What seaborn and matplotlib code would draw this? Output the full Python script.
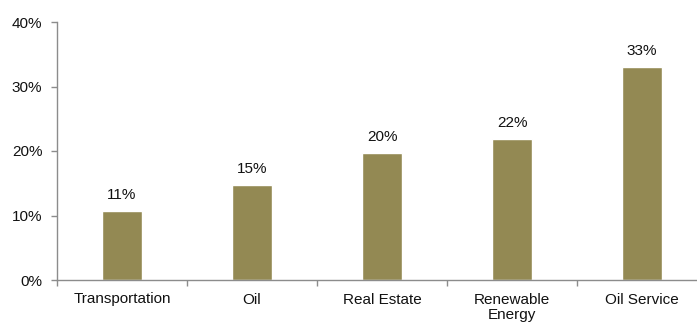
import matplotlib
matplotlib.use("Agg")
import matplotlib.pyplot as plt
import seaborn as sns
import pandas as pd
from matplotlib.ticker import FixedLocator, PercentFormatter

sectors = ["Transportation", "Oil", "Real Estate", "Renewable\nEnergy", "Oil Service"]
returns = [10.7, 14.8, 19.7, 21.8, 33.0]
y_ticks = [0, 10, 20, 30, 40]

df = pd.DataFrame({"sector": sectors, "ret": returns})

sns.set_theme(style="white")
plt.rcParams["font.family"] = ["Liberation Sans", "DejaVu Sans"]

fig = plt.figure(figsize=(6.97, 3.25), dpi=100)
ax = fig.add_axes([57 / 697, 45 / 325, 650 / 697, 258 / 325])

sns.barplot(data=df, x="sector", y="ret", color="#938953", saturation=1,
            width=0.31, ax=ax)

ax.set_xlim(-0.5, len(sectors) - 0.5)
ax.set_ylim(0, 40)
ax.set_yticks(y_ticks)
ax.yaxis.set_major_formatter(PercentFormatter(decimals=0))
ax.set_xlabel("")
ax.set_ylabel("")

for i, v in enumerate(returns):
    ax.annotate(f"{round(v):.0f}%", (i, v), xytext=(0, 6.5), textcoords="offset points",
                ha="center", va="bottom", fontsize=11, color="#111111")

for side in ("top", "right"):
    ax.spines[side].set_visible(False)
for side in ("left", "bottom"):
    ax.spines[side].set_color("#8c8c8c")
    ax.spines[side].set_linewidth(1)

ax.tick_params(axis="y", which="major", direction="out", length=4, width=1,
               color="#8c8c8c", labelsize=11, labelcolor="#111111", pad=6.5, left=True)
ax.tick_params(axis="x", which="major", length=0, labelsize=11, labelcolor="#111111", pad=9)
ax.xaxis.set_minor_locator(FixedLocator([i - 0.5 for i in range(len(sectors) + 1)]))
ax.tick_params(axis="x", which="minor", direction="out", length=4, width=1,
               color="#8c8c8c", bottom=True)
for lbl in ax.get_xticklabels():
    lbl.set_linespacing(1.15)

fig.savefig("out.png", dpi=100)
